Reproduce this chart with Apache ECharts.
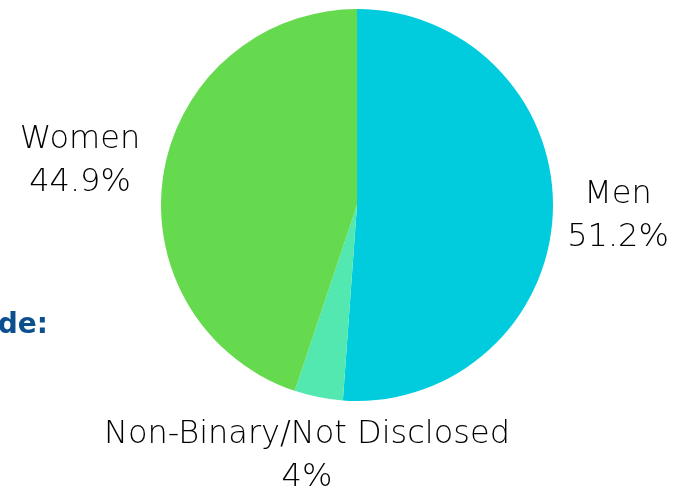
<!DOCTYPE html>
<html>
<head>
<meta charset="utf-8">
<script src="https://cdn.jsdelivr.net/npm/echarts@6/dist/echarts.min.js"></script>
<style>
  html, body { margin: 0; padding: 0; background: #fff; }
  #chart { width: 678px; height: 502px; }
</style>
</head>
<body>
<div id="chart"></div>
<script>
var categories = ['Men', 'Non-Binary/Not Disclosed', 'Women'];
var shares = [51.2, 4, 44.9];
var colors = ['#00CCDD', '#52E8B0', '#66DA4E'];

// where each label sits (centre of the two-line block)
var labelSpots = [[618, 216], [307, 456], [80, 161]];

var chart = echarts.init(document.getElementById('chart'));

var option = {
  animation: false,
  textStyle: { fontFamily: 'DejaVu Sans' },
  graphic: [{
    type: 'text',
    right: 630,
    top: 312,
    style: {
      text: 'de:',
      fill: '#0B4F8E',
      font: 'bold 28px DejaVu Sans'
    }
  }],
  series: [{
    type: 'pie',
    center: [357, 205],
    radius: 196,
    startAngle: 90,
    clockwise: true,
    data: categories.map(function (name, i) {
      return { name: name, value: shares[i], itemStyle: { color: colors[i] } };
    }),
    label: {
      position: 'outside',
      formatter: function (p) { return p.name + '\n' + p.value + '%'; },
      color: '#000',
      fontSize: 32,
      fontWeight: 200,
      lineHeight: 43,
      align: 'center',
      overflow: 'none'
    },
    labelLine: { show: false },
    labelLayout: function (p) {
      var s = labelSpots[p.dataIndex];
      return { x: s[0], y: s[1], align: 'center', verticalAlign: 'middle' };
    },
    emphasis: { disabled: true }
  }]
};
chart.setOption(option);
</script>
</body>
</html>
